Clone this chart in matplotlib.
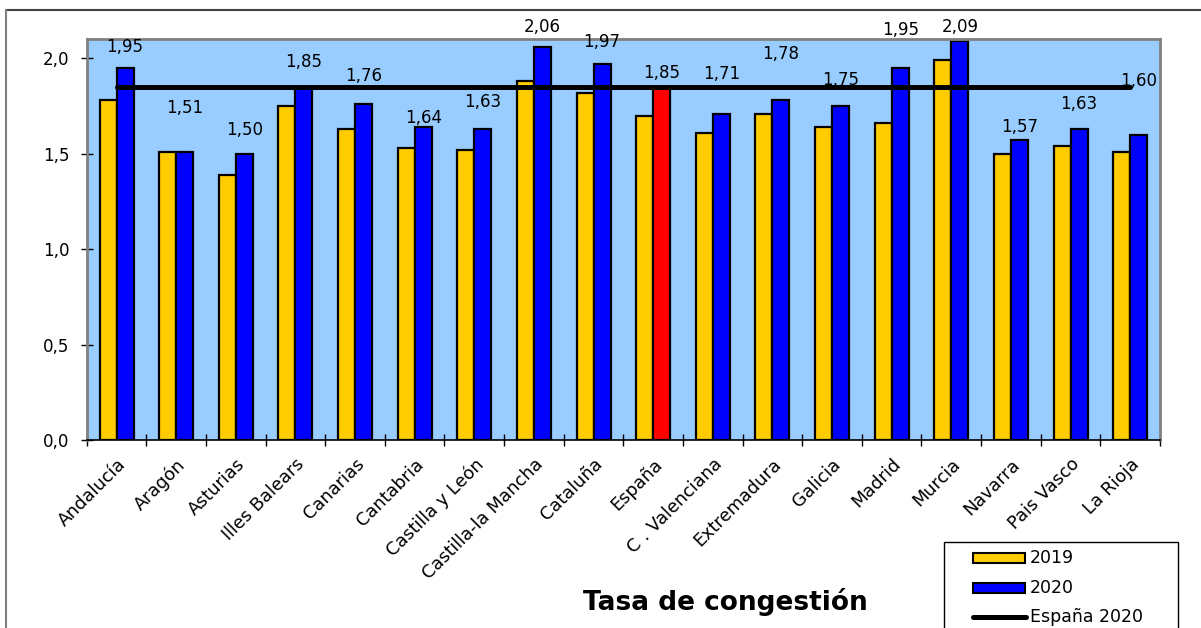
import numpy as np
import matplotlib
matplotlib.use("Agg")
import matplotlib.pyplot as plt
from matplotlib.patches import Rectangle
from matplotlib.lines import Line2D
from matplotlib.ticker import FuncFormatter

# ---- data ----
categories = ["Andalucía", "Aragón", "Asturias", "Illes Balears", "Canarias",
              "Cantabria", "Castilla y León", "Castilla-la Mancha", "Cataluña",
              "España", "C . Valenciana", "Extremadura", "Galicia", "Madrid",
              "Murcia", "Navarra", "Pais Vasco", "La Rioja"]
values_2019 = [1.78, 1.51, 1.39, 1.75, 1.63, 1.53, 1.52, 1.88, 1.82,
               1.70, 1.61, 1.71, 1.64, 1.66, 1.99, 1.50, 1.54, 1.51]
values_2020 = [1.95, 1.51, 1.50, 1.85, 1.76, 1.64, 1.63, 2.06, 1.97,
               1.85, 1.71, 1.78, 1.75, 1.95, 2.09, 1.57, 1.63, 1.60]
espana_2020 = 1.85
series_labels = ["2019", "2020", "España 2020"]
title = "Tasa de congestión"

# label offsets above 2020 bars (pixels) - style only
label_dy_px = [21, 44, 24, 25, 28, 9, 27, 20, 22, 14, 40, 46, 26, 38, 14, 13, 25, 54]

W, H = 1201, 628
fig = plt.figure(figsize=(W / 100, H / 100), dpi=100)
fig.patch.set_facecolor("white")
plt.rcParams["font.family"] = ["DejaVu Sans"]
FS = 12

ax = fig.add_axes([86.7 / W, (H - 440) / H, (1160 - 86.7) / W, (440 - 39.3) / H])
ax.set_facecolor("#99CCFF")

x = np.arange(len(categories))
bw = 0.285
col2020 = ["#FF0000" if c == "España" else "#0000FF" for c in categories]
ax.bar(x - bw / 2, values_2019, bw, color="#FFCC00", edgecolor="black", linewidth=1.6, zorder=2)
ax.bar(x + bw / 2, values_2020, bw, color=col2020, edgecolor="black", linewidth=1.6, zorder=2)
ax.plot([x[0], x[-1]], [espana_2020, espana_2020], color="black", lw=3.6,
        solid_capstyle="round", zorder=3)

for xi, v, dy in zip(x, values_2020, label_dy_px):
    ax.annotate(f"{v:.2f}".replace(".", ","), (xi + bw / 2, v),
                xytext=(0, dy * 0.72), textcoords="offset points",
                ha="center", va="center", fontsize=FS, zorder=4)

ax.set_xlim(-0.5, len(categories) - 0.5)
ax.set_ylim(0, 2.1)
ax.set_yticks([0, 0.5, 1.0, 1.5, 2.0])
ax.yaxis.set_major_formatter(FuncFormatter(lambda v, p: f"{v:.1f}".replace(".", ",")))
ax.tick_params(axis="y", direction="inout", length=8.5, width=1, labelsize=FS, pad=8)

ax.set_xticks(x)
ax.set_xticklabels(categories, rotation=45, ha="right", rotation_mode="anchor", fontsize=12.8)
ax.tick_params(axis="x", which="major", length=0, pad=11)
ax.set_xticks(np.arange(-0.5, len(categories) + 0.5, 1), minor=True)
ax.tick_params(axis="x", which="minor", direction="inout", length=9, width=1)

for s in ["top", "right", "left"]:
    ax.spines[s].set_color("#808080")
    ax.spines[s].set_linewidth(2)
ax.spines["bottom"].set_color("black")
ax.spines["bottom"].set_linewidth(1.2)

# outer chart frame (cropped)
fig.add_artist(Line2D([6 / W, 1.0], [1 - 10 / H, 1 - 10 / H], color="#404040", lw=1.5))
fig.add_artist(Line2D([6 / W, 6 / W], [0, 1 - 10 / H], color="#808080", lw=1.5))

# title
fig.text(725 / W, 1 - 602 / H, title, ha="center", va="center",
         fontsize=19, fontweight="bold")

# legend (drawn manually, cropped at bottom)
fig.add_artist(Rectangle((944 / W, -0.05), (1178 - 944) / W, 0.05 + (H - 542) / H,
                         transform=fig.transFigure, facecolor="white",
                         edgecolor="black", lw=1.0))
rows = [558, 588, 617]
for i, (lab, yy) in enumerate(zip(series_labels, rows)):
    yf = 1 - yy / H
    if i < 2:
        c = "#FFCC00" if i == 0 else "#0000FF"
        fig.add_artist(Rectangle((973 / W, yf - 5 / H), 52 / W, 10 / H,
                                 transform=fig.transFigure, facecolor=c,
                                 edgecolor="black", lw=1.5))
    else:
        fig.add_artist(Line2D([973 / W, 1026 / W], [yf, yf], color="black", lw=3.6,
                              solid_capstyle="round"))
    fig.text(1030 / W, yf, lab, ha="left", va="center", fontsize=12.5)

fig.savefig("out.png", dpi=100)
